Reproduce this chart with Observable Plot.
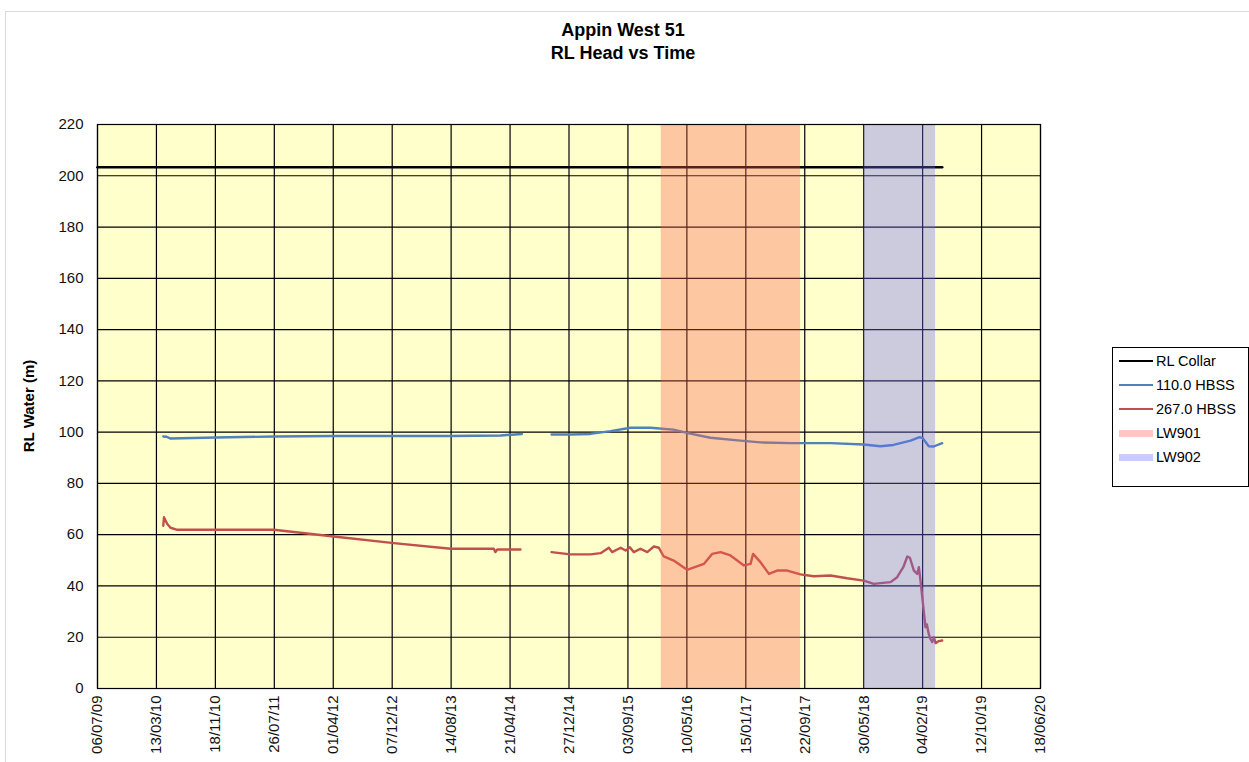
<!DOCTYPE html>
<html>
<head>
<meta charset="utf-8">
<script src="https://cdn.jsdelivr.net/npm/d3@7"></script>
<script src="https://cdn.jsdelivr.net/npm/@observablehq/plot@0.6"></script>
<style>
  html, body { margin: 0; padding: 0; background: #fff; }
  #wrap { position: relative; width: 1249px; height: 762px; overflow: hidden; font-family: Arial, "Liberation Sans", sans-serif; }
  #border { position: absolute; left: 5px; top: 11px; width: 1300px; height: 800px; border: 1px solid #d9d9d9; box-sizing: border-box; }
  #chart { position: absolute; left: 0; top: 0; }
  #title { position: absolute; left: 0; top: 19px; width: 1246px; text-align: center; font-weight: bold; font-size: 18px; line-height: 23px; color: #000; }
  #ylabel { position: absolute; left: 28px; top: 406px; transform: translate(-50%, -50%) rotate(-90deg); white-space: nowrap; font-weight: bold; font-size: 15px; color: #000; }
  #legend { position: absolute; left: 1112px; top: 347px; width: 137px; height: 140px; border: 1px solid #000; box-sizing: border-box; background: #fff; }
  .item { position: absolute; left: 6px; height: 20px; display: flex; align-items: center; font-size: 14.5px; color: #000; }
  .sw { width: 34px; margin-right: 3px; }
</style>
</head>
<body>
<div id="wrap">
  <div id="border"></div>
  <div id="chart"></div>
  <div id="title">Appin West 51<br>RL Head vs Time</div>
  <div id="ylabel">RL Water (m)</div>
  <div id="legend"></div>
</div>
<script>
// ---- tick labels ----
const xTickLabels = ["06/07/09","13/03/10","18/11/10","26/07/11","01/04/12","07/12/12","14/08/13","21/04/14",
  "27/12/14","03/09/15","10/05/16","15/01/17","22/09/17","30/05/18","04/02/19","12/10/19","18/06/20"];
const yTicks = [0,20,40,60,80,100,120,140,160,180,200,220];

// ---- series: RL Collar ----
const collarDates = ["2009-07-06","2019-04-28"];
const collarValues = [203.3, 203.3];

// ---- series: 110.0 HBSS (null = gap in record) ----
const blueDates = ["2010-04-11","2010-04-25","2010-05-12","2010-11-18","2011-07-26","2012-04-01","2013-08-14","2014-03-12","2014-06-10",
  "2014-08-01",
  "2014-10-14","2015-01-01","2015-03-28","2015-06-21","2015-09-14","2015-12-08","2016-03-14","2016-05-24","2016-08-18",
  "2016-12-23","2017-03-18","2017-07-24","2018-01-09","2018-05-30","2018-08-09","2018-10-03","2018-12-15","2019-01-19",
  "2019-02-03","2019-03-02","2019-03-23","2019-04-28"];
const blueValues = [98.3,98.2,97.5,97.9,98.3,98.5,98.5,98.7,99.3,
  null,
  99.1,99.1,99.3,100.4,101.7,101.7,101.0,99.4,97.8,
  96.7,96.0,95.7,95.7,95.2,94.5,95.0,96.7,98.0,
  97.8,94.5,94.4,95.7];

// ---- series: 267.0 HBSS (null = gap in record) ----
const redDates = ["2010-04-11","2010-04-14","2010-04-28","2010-05-12","2010-06-09","2011-07-24","2012-04-03","2012-12-14","2013-08-12",
  "2014-02-11","2014-02-18","2014-02-26","2014-06-04",
  "2014-08-01",
  "2014-10-14","2015-01-02","2015-03-28","2015-05-10","2015-06-14","2015-06-28","2015-08-03","2015-08-24","2015-09-11",
  "2015-09-28","2015-10-26","2015-11-24","2015-12-22","2016-01-12","2016-02-02","2016-03-15","2016-05-11","2016-07-21",
  "2016-08-25","2016-09-30","2016-11-11","2017-01-07","2017-02-04","2017-02-15","2017-03-18","2017-04-23","2017-05-28",
  "2017-07-10","2017-09-04","2017-10-30","2018-01-09","2018-03-21","2018-05-30","2018-07-12","2018-08-09","2018-09-21",
  "2018-10-19","2018-11-14","2018-12-01","2018-12-12","2018-12-29","2019-01-12","2019-01-19","2019-01-26","2019-02-07",
  "2019-02-16","2019-02-22","2019-03-02","2019-03-08","2019-03-17","2019-03-24","2019-03-31","2019-04-14","2019-04-28"];
const redValues = [63.5,66.8,64.2,62.7,61.9,61.9,59.3,56.7,54.5,
  54.5,53.2,54.2,54.2,
  null,
  53.2,52.3,52.3,52.8,54.9,53.2,54.9,53.8,55.1,
  53.2,54.5,53.2,55.4,54.9,51.5,49.9,46.3,48.6,
  52.5,53.2,51.9,48.0,48.6,52.5,49.3,44.7,46.0,
  46.0,44.5,43.8,44.1,43.0,42.1,40.8,41.1,41.5,
  43.4,47.3,51.5,51.0,46.0,44.7,47.3,42.1,31.7,
  23.9,25.0,21.3,19.5,18.1,20.0,17.7,18.5,18.7];

// ---- mining panels ----
const panelNames = ["LW901","LW902"];
const panelStarts = ["2016-01-22","2018-05-31"];
const panelEnds = ["2017-09-04","2019-03-31"];

// ---- build tables ----
const parseISO = d3.utcParse("%Y-%m-%d");
const parseTick = d3.utcParse("%d/%m/%y");
const xTicks = xTickLabels.map(parseTick);
const collar = collarDates.map((d, i) => ({date: parseISO(d), value: collarValues[i]}));
const blue = blueDates.map((d, i) => ({date: parseISO(d), value: blueValues[i]}));
const red = redDates.map((d, i) => ({date: parseISO(d), value: redValues[i]}));
const panels = panelNames.map((n, i) => ({name: n, start: parseISO(panelStarts[i]), end: parseISO(panelEnds[i])}));

const C_BLUE = "#4F81BD", C_RED = "#C0504D";
const C_901 = "#F9624F", C_902 = "#6A6AFB", SHADE_OP = 0.35;

const chart = Plot.plot({
  width: 1249,
  height: 762,
  marginLeft: 97,
  marginRight: 209,
  marginTop: 124,
  marginBottom: 74,
  style: {fontFamily: "Arial, 'Liberation Sans', sans-serif", fontSize: "14px", color: "#111", background: "transparent"},
  x: {type: "utc", domain: [xTicks[0], xTicks[xTicks.length - 1]]},
  y: {domain: [0, 220]},
  marks: [
    Plot.frame({fill: "#FFFFCC", stroke: null}),
    Plot.gridX(xTicks, {stroke: "#000", strokeOpacity: 1, strokeWidth: 1.2}),
    Plot.gridY(yTicks, {stroke: "#000", strokeOpacity: 1, strokeWidth: 1.2}),
    Plot.line(collar, {x: "date", y: "value", stroke: "#000", strokeWidth: 2.6}),
    Plot.line(blue, {x: "date", y: "value", stroke: C_BLUE, strokeWidth: 2.4}),
    Plot.line(red, {x: "date", y: "value", stroke: C_RED, strokeWidth: 2.4}),
    Plot.rect(panels.filter(d => d.name === "LW901"), {x1: "start", x2: "end", fill: C_901, fillOpacity: SHADE_OP}),
    Plot.rect(panels.filter(d => d.name === "LW902"), {x1: "start", x2: "end", fill: C_902, fillOpacity: SHADE_OP}),
    Plot.frame({stroke: "#000", strokeWidth: 1.2}),
    Plot.axisX(xTicks, {tickFormat: d3.utcFormat("%d/%m/%y"), tickRotate: -90, tickSize: 0, tickPadding: 7, fontSize: 15, label: null}),
    Plot.axisY(yTicks, {tickSize: 0, tickPadding: 14, fontSize: 15, label: null})
  ]
});
document.getElementById("chart").appendChild(chart);

// ---- legend ----
const legendItems = [
  {label: "RL Collar", color: "#000", h: 2.6, op: 1},
  {label: "110.0 HBSS", color: C_BLUE, h: 2.4, op: 1},
  {label: "267.0 HBSS", color: C_RED, h: 2.4, op: 1},
  {label: "LW901", color: C_901, h: 7, op: SHADE_OP},
  {label: "LW902", color: C_902, h: 7, op: SHADE_OP}
];
const legend = document.getElementById("legend");
legendItems.forEach((it, i) => {
  const row = document.createElement("div");
  row.className = "item";
  row.style.top = (3 + i * 24) + "px";
  const sw = document.createElement("div");
  sw.className = "sw";
  sw.style.height = it.h + "px";
  sw.style.background = it.color;
  sw.style.opacity = it.op;
  const tx = document.createElement("span");
  tx.textContent = it.label;
  row.appendChild(sw);
  row.appendChild(tx);
  legend.appendChild(row);
});
</script>
</body>
</html>
